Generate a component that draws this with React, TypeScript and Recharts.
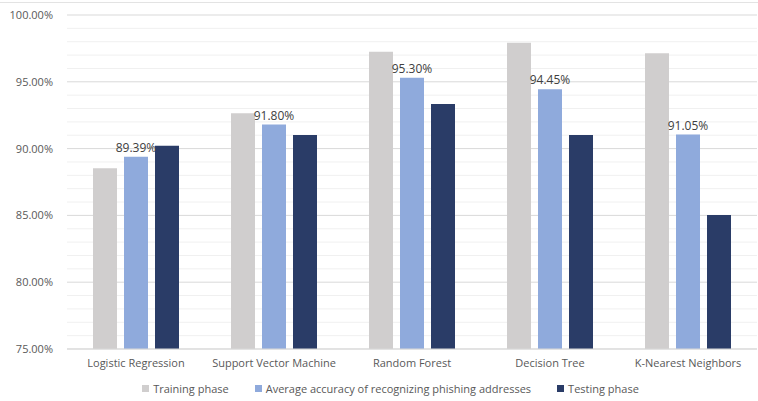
import { Bar, BarChart, CartesianGrid, LabelList, Legend, XAxis, YAxis } from 'recharts';

const CATEGORIES = ['Logistic Regression', 'Support Vector Machine', 'Random Forest', 'Decision Tree', 'K-Nearest Neighbors'];
const TRAINING = [88.52, 92.64, 97.25, 97.93, 97.13];
const AVERAGE = [89.39, 91.8, 95.3, 94.45, 91.05];
const TESTING = [90.22, 91.02, 93.34, 91.02, 85.03];
// every 1% gets a gridline, only every 5% gets a label
const Y_TICKS = [75, 76, 77, 78, 79, 80, 81, 82, 83, 84, 85, 86, 87, 88, 89, 90, 91, 92, 93, 94, 95, 96, 97, 98, 99, 100];

const SERIES = [
  { key: 'training', name: 'Training phase', color: '#D0CECE' },
  { key: 'average', name: 'Average accuracy of recognizing phishing addresses', color: '#8FAADC' },
  { key: 'testing', name: 'Testing phase', color: '#2A3C67' },
];

const data = CATEGORIES.map((name, i) => ({
  name,
  training: TRAINING[i],
  average: AVERAGE[i],
  testing: TESTING[i],
}));

const FONT = '"Open Sans", "Noto Sans", sans-serif';
const pct = (v: any) => `${Number(v).toFixed(2)}%`;

function GridLine(props: any) {
  const { x1, y1, x2, y2, index } = props;
  const major = index % 5 === 0;
  return <line x1={x1} y1={y1} x2={x2} y2={y2} stroke={major ? '#D9D9D9' : '#F0F0F0'} strokeWidth={1} />;
}

function ChartLegend() {
  return (
    <div
      style={{
        display: 'flex',
        justifyContent: 'center',
        gap: 26,
        paddingTop: 6,
        paddingLeft: 24,
        fontFamily: FONT,
        fontSize: 11,
        color: '#595959',
      }}
    >
      {SERIES.map(s => (
        <div key={s.key} style={{ display: 'flex', alignItems: 'center', gap: 4 }}>
          <div style={{ width: 7, height: 7, backgroundColor: s.color }} />
          <span>{s.name}</span>
        </div>
      ))}
    </div>
  );
}

export default function App() {
  return (
    <div style={{ position: 'relative', width: 758, height: 401, background: '#fff', fontFamily: FONT }}>
      <style>{'body{margin:0}'}</style>
      <div style={{ position: 'absolute', top: 2, left: 0, width: 758, height: 1, background: '#E3E3E3' }} />
      <BarChart
        width={758}
        height={401}
        data={data}
        margin={{ top: 15, right: 1, left: 0, bottom: 0 }}
        barSize={24}
        barGap={7}
      >
        <CartesianGrid vertical={false} horizontal={(p: any) => <GridLine key={p.key} {...p} />} />
        <XAxis
          dataKey="name"
          tickLine={false}
          axisLine={{ stroke: '#D9D9D9' }}
          tick={{ fill: '#595959', fontSize: 11, fontFamily: FONT }}
          tickMargin={4}
          height={26}
          interval={0}
        />
        <YAxis
          domain={[75, 100]}
          ticks={Y_TICKS}
          interval={0}
          tickFormatter={(v: number) => (v % 5 === 0 ? pct(v) : '')}
          axisLine={false}
          tickLine={false}
          width={67}
          tick={{ fill: '#595959', fontSize: 11, fontFamily: FONT }}
          tickMargin={8}
        />
        <Legend content={<ChartLegend />} verticalAlign="bottom" height={26} />
        {SERIES.map(s => (
          <Bar key={s.key} dataKey={s.key} name={s.name} fill={s.color} isAnimationActive={false}>
            {s.key === 'average' && (
              <LabelList
                dataKey="average"
                position="top"
                offset={5}
                formatter={pct}
                style={{ fill: '#404040', fontSize: 12, fontFamily: FONT }}
              />
            )}
          </Bar>
        ))}
      </BarChart>
    </div>
  );
}
